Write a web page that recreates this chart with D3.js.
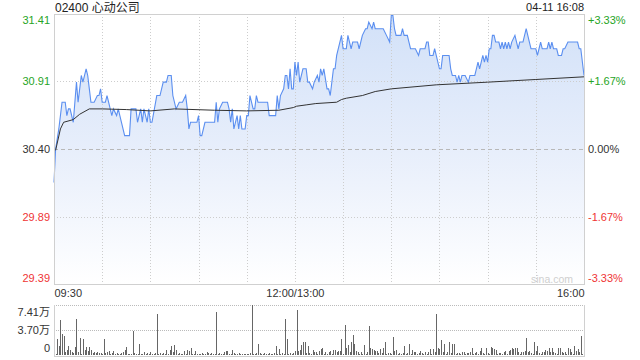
<!DOCTYPE html>
<html>
<head>
<meta charset="utf-8">
<script src="https://cdn.jsdelivr.net/npm/d3@7"></script>
<style>
  html, body { margin: 0; padding: 0; background: #fff; }
  svg { display: block; font-family: Arial, "Liberation Sans", "Noto Sans CJK SC", sans-serif; }
</style>
</head>
<body>
<div id="chart"></div>
<script>

/**************************************************
 * Data                                           *
 **************************************************/

var stockTitle = '02400 心动公司';
var stampText = '04-11 16:08';
var prevClose = 30.40;

var priceTicks = [31.41, 30.91, 30.40, 29.89, 29.39];
var pctLabels = ['+3.33%', '+1.67%', '0.00%', '-1.67%', '-3.33%'];
var timeTicks = [0, 150, 330];
var timeLabels = ['09:30', '12:00/13:00', '16:00'];
var volTicks = [7.41, 3.70, 0];
var volLabels = ['7.41万', '3.70万', '0'];

// minutes since 09:30 (lunch break removed) and traded price
var priceMinutes = [0, 1, 3, 5, 7, 8, 9, 10, 12, 14, 15, 16, 17, 18, 20, 21, 22, 23, 25, 27,
  28, 29, 30, 32, 33, 34, 36, 37, 39, 40, 41, 42, 44, 47, 48, 51, 52, 54, 55, 56,
  58, 59, 60, 61, 64, 66, 68, 70, 71, 73, 74, 76, 78, 80, 82, 83, 84, 85, 89, 90,
  91, 92, 94, 100, 101, 102, 103, 105, 108, 109, 110, 111, 112, 114, 115, 116, 117, 119, 120, 121,
  122, 124, 125, 126, 127, 133, 134, 138, 139, 140, 141, 143, 144, 145, 146, 147, 148, 149, 150, 151,
  152, 153, 155, 157, 158, 159, 161, 162, 164, 165, 166, 167, 168, 170, 171, 172, 174, 175, 176, 178,
  179, 180, 182, 183, 184, 185, 186, 189, 190, 192, 194, 195, 196, 198, 199, 200, 203, 205, 207, 209,
  210, 211, 212, 213, 216, 217, 218, 220, 221, 222, 225, 227, 228, 231, 232, 233, 234, 236, 237, 238,
  240, 241, 242, 246, 247, 248, 250, 251, 252, 253, 254, 256, 258, 259, 262, 263, 264, 265, 266, 267,
  268, 269, 270, 271, 272, 273, 274, 275, 277, 278, 279, 280, 281, 282, 283, 284, 285, 287, 288, 289,
  290, 292, 294, 295, 296, 297, 300, 301, 302, 303, 304, 306, 307, 308, 309, 310, 311, 313, 314, 316,
  317, 318, 320, 326, 327, 328, 330];
var prices = [30.15, 30.40, 30.55, 30.75, 30.75, 30.65, 30.70, 30.70, 30.60, 30.90, 30.75, 30.85, 30.95, 30.90, 31.00, 30.95, 30.85, 30.75, 30.75, 30.80,
  30.80, 30.85, 30.75, 30.75, 30.80, 30.75, 30.65, 30.70, 30.65, 30.70, 30.65, 30.60, 30.50, 30.50, 30.70, 30.70, 30.60, 30.70, 30.60, 30.70,
  30.60, 30.70, 30.60, 30.60, 30.80, 30.80, 30.90, 30.90, 30.95, 30.95, 30.80, 30.70, 30.75, 30.75, 30.80, 30.70, 30.55, 30.60, 30.60, 30.65,
  30.50, 30.50, 30.60, 30.60, 30.75, 30.60, 30.70, 30.75, 30.75, 30.70, 30.60, 30.70, 30.55, 30.65, 30.55, 30.65, 30.55, 30.55, 30.65, 30.65,
  30.80, 30.70, 30.70, 30.80, 30.75, 30.75, 30.65, 30.65, 30.80, 30.70, 30.80, 30.85, 30.95, 30.95, 30.85, 31.00, 30.85, 30.85, 31.05, 30.95,
  31.05, 30.90, 31.00, 31.00, 30.90, 30.90, 30.85, 30.90, 30.95, 30.90, 31.00, 30.95, 31.00, 30.85, 30.85, 30.80, 31.00, 31.00, 31.10, 31.20,
  31.25, 31.15, 31.15, 31.25, 31.20, 31.15, 31.20, 31.20, 31.15, 31.25, 31.30, 31.30, 31.35, 31.30, 31.35, 31.30, 31.30, 31.30, 31.25, 31.20,
  31.40, 31.40, 31.30, 31.25, 31.25, 31.30, 31.25, 31.25, 31.20, 31.15, 31.15, 31.10, 31.15, 31.15, 31.20, 31.20, 31.10, 31.10, 31.15, 31.10,
  31.00, 31.00, 31.10, 31.10, 31.00, 30.95, 30.95, 30.90, 30.95, 30.90, 30.95, 30.95, 30.90, 30.95, 30.95, 31.00, 31.05, 31.00, 31.05, 31.10,
  31.05, 31.10, 31.05, 31.15, 31.15, 31.25, 31.25, 31.20, 31.20, 31.15, 31.20, 31.15, 31.20, 31.15, 31.20, 31.15, 31.20, 31.25, 31.20, 31.15,
  31.20, 31.20, 31.30, 31.25, 31.20, 31.15, 31.15, 31.10, 31.15, 31.20, 31.15, 31.15, 31.15, 31.20, 31.15, 31.20, 31.15, 31.15, 31.10, 31.10,
  31.15, 31.15, 31.20, 31.20, 31.15, 31.15, 30.95];

// running average price
var avgMinutes = [1, 4, 6, 12, 16, 22, 30, 45, 60, 75, 100, 120, 140, 149, 151, 157, 163, 176, 179, 182, 192, 200, 210, 238, 270, 300, 330];
var avgPrices = [30.39, 30.55, 30.60, 30.62, 30.66, 30.70, 30.70, 30.695, 30.685, 30.70, 30.69, 30.685, 30.69, 30.71, 30.72, 30.73, 30.74, 30.75, 30.77, 30.78, 30.80, 30.83, 30.85, 30.88, 30.90, 30.92, 30.94];

// volume per minute, in 万 shares
var volumes = [0, 0.2, 2.3, 1.3, 5.2, 3.1, 2.8, 0.5, 0.8, 1.3,
  0.7, 0.5, 0.3, 1.2, 5.3, 0.4, 2.5, 0.2, 2.3, 0.7,
  1.2, 0.6, 1.2, 0.7, 0.3, 0.5, 0.3, 0.5, 0.3, 0.3,
  0.2, 2.3, 0.3, 0.5, 0.6, 0.2, 0.3, 0.6, 0.1, 0.3,
  0.2, 0.1, 0.25, 0.5, 0.7, 1.2, 0.2, 0.1, 0.2, 3.6,
  0.3, 0.2, 0.1, 1.6, 0.1, 0.2, 0.5, 0.1, 0.3, 0.1,
  0.4, 0.2, 0.1, 0.25, 6.1, 0.2, 0.3, 0.1, 0.25, 0.1,
  0.8, 0.1, 0.8, 1.3, 0.4, 1.5, 0.7, 0.2, 0.35, 0.1,
  0.2, 0.6, 0.2, 0.7, 0.6, 1.1, 0.2, 0.1, 0.6, 0.2,
  0.1, 0.2, 0.35, 0.1, 0.2, 0.5, 0.3, 0.1, 0.35, 0.2,
  0.1, 6.3, 0.2, 0.25, 0.1, 0.2, 0.5, 0.6, 0.6, 0.2,
  0.1, 0.7, 0.25, 0.1, 0.2, 0.25, 0.1, 0.2, 0.15, 0.2,
  0.1, 0.2, 0.3, 7.41, 0.1, 0.2, 0.3, 1.7, 0.35, 0.1,
  0.2, 0.35, 0.1, 0.2, 0.35, 0.1, 0.2, 0.3, 1.3, 0.2,
  0.9, 0.1, 0.35, 0.2, 5.3, 2.3, 0.2, 0.35, 0.1, 0.35,
  0.6, 6.7, 0.6, 0.7, 1.5, 1.9, 2.0, 0.3, 1.3, 0.3,
  0.1, 0.7, 0.5, 0.4, 0.1, 0.6, 0.84, 1.1, 0.2, 0.4,
  0.1, 0.4, 0.6, 0.1, 0.74, 0.74, 0.5, 0.6, 0.6, 2.3,
  0.2, 4.4, 1.0, 1.5, 0.5, 2.0, 3.0, 1.6, 0.6, 0.4,
  0.2, 0.4, 0.1, 1.5, 0.2, 0.5, 4.3, 1.0, 0.84, 0.74,
  0.6, 0.6, 0.3, 0.84, 0.25, 1.1, 1.9, 0.2, 0.25, 0.25,
  0.1, 2.6, 0.6, 0.74, 0.1, 0.25, 0.1, 0.25, 1.3, 0.1,
  0.35, 1.6, 0.2, 0.74, 0.5, 0.5, 0.1, 0.25, 0.6, 0.25,
  0.1, 0.5, 0.2, 0.5, 0.9, 0.2, 0.9, 0.5, 6.1, 1.1,
  0.84, 2.2, 0.5, 1.6, 0.2, 0.5, 1.9, 0.35, 1.7, 1.6,
  0.1, 0.25, 0.25, 0.1, 0.4, 0.5, 0.1, 0.25, 0.35, 0.4,
  1.0, 0.1, 0.35, 0.4, 0.1, 0.6, 1.1, 0.25, 0.1, 1.0,
  0.25, 0.1, 1.24, 1.1, 0.84, 0.74, 0.1, 0.25, 0.35, 0.1,
  0.5, 0.6, 0.2, 0.6, 0.74, 1.0, 0.84, 1.0, 1.1, 0.4,
  0.1, 0.5, 0.4, 0.6, 2.5, 0.5, 0.6, 0.25, 0.1, 1.9,
  0.6, 1.3, 0.25, 0.1, 0.4, 0.5, 0.74, 0.6, 1.0, 0.4,
  1.0, 0.4, 0.25, 0.1, 1.0, 1.1, 0.4, 0.25, 0.5, 0.1,
  1.1, 0.84, 0.5, 0.1, 1.3, 0.6, 0.84, 0.5, 2.8, 0.2,
  3.95];

/**************************************************
 * Layout                                         *
 **************************************************/

var width = 640,
  height = 360;

var plot = { left: 54, right: 584, top: 14, bottom: 284 },
  volPanel = { top: 305, bottom: 355 };

var colors = {
  up: '#26a426',
  down: '#ef3535',
  flat: '#333',
  grid: '#cdcdcd',
  frame: '#d0d0d0',
  line: '#5b8ff0',
  avg: '#333',
  bar: '#666'
};

var x = d3.scaleLinear().domain([0, 330]).range([plot.left, plot.right]);
var y = d3.scaleLinear().domain([29.39, 31.41]).range([plot.bottom, plot.top]);
var yVol = d3.scaleLinear().domain([0, 7.41]).range([volPanel.bottom, volPanel.top]);

function priceColor(p) {
  if (p > prevClose + 0.001) return colors.up;
  if (p < prevClose - 0.001) return colors.down;
  return colors.flat;
}

var svg = d3.select('#chart').append('svg')
  .attr('width', width)
  .attr('height', height);

var defs = svg.append('defs');
var grad = defs.append('linearGradient')
  .attr('id', 'areaFill')
  .attr('gradientUnits', 'userSpaceOnUse')
  .attr('x1', 0).attr('y1', plot.top)
  .attr('x2', 0).attr('y2', plot.bottom);
grad.append('stop').attr('offset', 0).attr('stop-color', '#d2e1f8');
grad.append('stop').attr('offset', 0.5).attr('stop-color', '#e7eefb');
grad.append('stop').attr('offset', 1).attr('stop-color', '#ffffff');

/**************************************************
 * Price panel                                    *
 **************************************************/

var pricePoints = priceMinutes.map(function(m, i) { return [m, prices[i]]; });
var avgPoints = avgMinutes.map(function(m, i) { return [m, avgPrices[i]]; });

var area = d3.area()
  .x(function(d) { return x(d[0]); })
  .y0(plot.bottom)
  .y1(function(d) { return y(d[1]); });

var line = d3.line()
  .x(function(d) { return x(d[0]); })
  .y(function(d) { return y(d[1]); });

svg.append('path')
  .attr('d', area(pricePoints))
  .attr('fill', 'url(#areaFill)');

// grid
var gridGroup = svg.append('g').attr('shape-rendering', 'crispEdges');
d3.range(30, 330, 30).forEach(function(m) {
  gridGroup.append('line')
    .attr('x1', Math.round(x(m)) + 0.5).attr('x2', Math.round(x(m)) + 0.5)
    .attr('y1', plot.top).attr('y2', plot.bottom)
    .attr('stroke', colors.grid)
    .attr('stroke-dasharray', '1,2');
});
priceTicks.slice(1, -1).forEach(function(p) {
  var isBase = Math.abs(p - prevClose) < 0.001;
  gridGroup.append('line')
    .attr('x1', plot.left).attr('x2', plot.right)
    .attr('y1', Math.round(y(p)) + 0.5).attr('y2', Math.round(y(p)) + 0.5)
    .attr('stroke', isBase ? '#b8b8b8' : colors.grid)
    .attr('stroke-dasharray', isBase ? '4,3' : '1,2');
});

svg.append('text')
  .attr('x', 573).attr('y', 283)
  .attr('text-anchor', 'end')
  .attr('font-size', '10.5px')
  .attr('fill', '#cfcfcf')
  .text('sina.com');

svg.append('path')
  .attr('d', line(pricePoints))
  .attr('fill', 'none')
  .attr('stroke', colors.line)
  .attr('stroke-width', 1.1);

svg.append('path')
  .attr('d', line(avgPoints))
  .attr('fill', 'none')
  .attr('stroke', colors.avg)
  .attr('stroke-width', 1);

svg.append('rect')
  .attr('x', plot.left + 0.5).attr('y', plot.top + 0.5)
  .attr('width', plot.right - plot.left).attr('height', plot.bottom - plot.top)
  .attr('fill', 'none')
  .attr('stroke', colors.frame)
  .attr('shape-rendering', 'crispEdges');

// price axes
var leftAxis = svg.append('g')
  .attr('transform', 'translate(' + plot.left + ',0)')
  .call(d3.axisLeft(y).tickValues(priceTicks).tickSize(0).tickPadding(4).tickFormat(d3.format('.2f')));
var rightAxis = svg.append('g')
  .attr('transform', 'translate(' + plot.right + ',0)')
  .call(d3.axisRight(y).tickValues(priceTicks).tickSize(0).tickPadding(4)
    .tickFormat(function(d, i) { return pctLabels[i]; }));

[leftAxis, rightAxis].forEach(function(ax) {
  ax.select('.domain').remove();
  ax.selectAll('text')
    .attr('font-size', '11px')
    .attr('font-family', 'Arial, "Liberation Sans", sans-serif')
    .attr('fill', function(d) { return priceColor(d); })
    .attr('y', function(d, i) { return i === 0 ? 6 : (i === priceTicks.length - 1 ? -6 : 0); });
});

// time axis
var timeAxis = svg.append('g')
  .attr('transform', 'translate(0,' + plot.bottom + ')')
  .call(d3.axisBottom(x).tickValues(timeTicks).tickSize(0).tickPadding(5)
    .tickFormat(function(d, i) { return timeLabels[i]; }));
timeAxis.select('.domain').remove();
timeAxis.selectAll('text')
  .attr('font-size', '11px')
  .attr('font-family', 'Arial, "Liberation Sans", sans-serif')
  .attr('fill', '#333')
  .attr('text-anchor', function(d, i) { return i === 0 ? 'start' : (i === timeTicks.length - 1 ? 'end' : 'middle'); });

/**************************************************
 * Volume panel                                   *
 **************************************************/

var volGroup = svg.append('g').attr('shape-rendering', 'crispEdges');

volTicks.slice(0, -1).forEach(function(v) {
  volGroup.append('line')
    .attr('x1', plot.left).attr('x2', plot.right)
    .attr('y1', Math.round(yVol(v)) + 0.5).attr('y2', Math.round(yVol(v)) + 0.5)
    .attr('stroke', '#bbb')
    .attr('stroke-dasharray', '1,1');
});

volGroup.selectAll('rect.bar')
  .data(volumes)
  .enter().append('rect')
  .attr('class', 'bar')
  .attr('x', function(d, i) { return Math.round(x(i)); })
  .attr('y', function(d) { return yVol(d); })
  .attr('width', 1)
  .attr('height', function(d) { return volPanel.bottom - yVol(d); })
  .attr('fill', colors.bar);

[plot.left, plot.right].forEach(function(px) {
  volGroup.append('line')
    .attr('x1', px + 0.5).attr('x2', px + 0.5)
    .attr('y1', volPanel.top).attr('y2', volPanel.bottom + 1)
    .attr('stroke', colors.frame);
});
volGroup.append('line')
  .attr('x1', plot.left).attr('x2', plot.right + 1)
  .attr('y1', volPanel.bottom + 1.5).attr('y2', volPanel.bottom + 1.5)
  .attr('stroke', colors.frame);

var volAxis = svg.append('g')
  .attr('transform', 'translate(' + plot.left + ',0)')
  .call(d3.axisLeft(yVol).tickValues(volTicks).tickSize(0).tickPadding(4)
    .tickFormat(function(d, i) { return volLabels[i]; }));
volAxis.select('.domain').remove();
volAxis.selectAll('text')
  .attr('font-size', '11px')
  .attr('font-family', 'Arial, "Liberation Sans", "Noto Sans CJK SC", sans-serif')
  .attr('fill', '#333')
  .attr('y', function(d, i) { return i === 0 ? 7 : (i === volTicks.length - 1 ? -7 : 0); });

/**************************************************
 * Titles                                         *
 **************************************************/

svg.append('text')
  .attr('x', 55).attr('y', 12)
  .attr('font-size', '12px')
  .attr('fill', '#222')
  .text(stockTitle);

svg.append('text')
  .attr('x', 584).attr('y', 11)
  .attr('text-anchor', 'end')
  .attr('font-size', '11px')
  .attr('fill', '#222')
  .text(stampText);

</script>
</body>
</html>
